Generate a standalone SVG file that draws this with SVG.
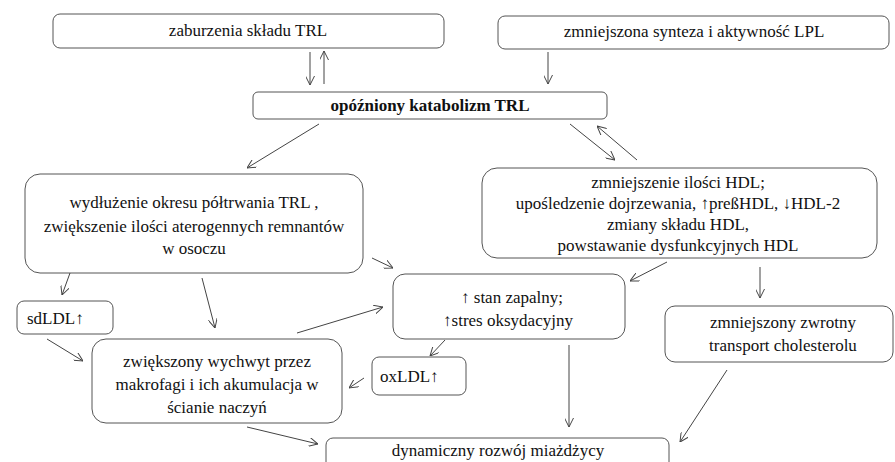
<svg xmlns="http://www.w3.org/2000/svg" width="895" height="462" viewBox="0 0 895 462" font-family="'Liberation Serif', 'Times New Roman', serif">
<style>
.b{fill:#fff;stroke:#555;stroke-width:1}
.t{font-family:'Liberation Serif','Times New Roman',serif;font-size:17px;fill:#111;text-anchor:middle}
.l{font-family:'Liberation Serif','Times New Roman',serif;font-size:17px;fill:#111}
.c line{stroke:#444;stroke-width:1;marker-end:url(#a)}
</style>
<defs>
<marker id="a" viewBox="0 0 10 10" refX="10" refY="5" markerWidth="9" markerHeight="9" markerUnits="userSpaceOnUse" orient="auto">
<path d="M0,0 L10,5 L0,10" fill="none" stroke="#444" stroke-width="1.1"/>
</marker>
</defs>
<rect width="895" height="462" fill="#fff"/>
<g id="n1"><rect class="b" x="53" y="14" width="391" height="34" rx="7"/><text class="t" x="248" y="36">zaburzenia składu TRL</text></g>
<g id="n2"><rect class="b" x="498" y="16" width="391" height="33" rx="7"/><text class="t" x="694" y="37">zmniejszona  synteza i aktywność LPL</text></g>
<g id="n3"><rect class="b" x="253" y="92" width="354" height="27" rx="5"/><text class="t" x="430" y="111" font-weight="bold">opóźniony  katabolizm  TRL</text></g>
<g id="n4"><rect class="b" x="25" y="174" width="338" height="99" rx="15"/>
<text class="t" x="194" y="208">wydłużenie okresu półtrwania TRL ,</text>
<text class="t" x="194" y="232"> zwiększenie ilości aterogennych remnantów</text>
<text class="t" x="194" y="254">w osoczu</text></g>
<g id="n5"><rect class="b" x="482" y="168" width="395" height="90" rx="15"/>
<text class="t" x="678" y="188">zmniejszenie ilości HDL;</text>
<text class="t" x="678" y="209">upośledzenie dojrzewania, ↑preßHDL, ↓HDL-2</text>
<text class="t" x="678" y="230">zmiany składu HDL,</text>
<text class="t" x="678" y="251">powstawanie dysfunkcyjnych HDL</text></g>
<g id="n6"><rect class="b" x="17" y="301" width="96" height="33" rx="7"/><text class="l" x="27" y="324">sdLDL↑</text></g>
<g id="n7"><rect class="b" x="393" y="274" width="232" height="65" rx="12"/>
<text class="t" x="512" y="303">↑ stan zapalny;</text>
<text class="t" x="508" y="326">↑stres oksydacyjny</text></g>
<g id="n8"><rect class="b" x="665" y="306" width="228" height="56" rx="10"/>
<text class="t" x="783" y="328">zmniejszony  zwrotny</text>
<text class="t" x="783" y="351">transport cholesterolu</text></g>
<g id="n9"><rect class="b" x="92" y="339" width="250" height="84" rx="14"/>
<text class="t" x="217" y="367">zwiększony  wychwyt przez</text>
<text class="t" x="217" y="390">makrofagi i ich akumulacja w</text>
<text class="t" x="217" y="413">ścianie naczyń</text></g>
<g id="n10"><rect class="b" x="372" y="357" width="94" height="38" rx="7"/><text class="l" x="380" y="382">oxLDL↑</text></g>
<g id="n11"><rect class="b" x="326" y="438" width="343" height="40" rx="7"/><text class="t" x="498" y="456">dynamiczny rozwój miażdżycy</text></g>
<g class="c" id="connectors">
<line x1="310" y1="52" x2="310" y2="85"/>
<line x1="324" y1="84" x2="324" y2="51"/>
<line x1="548" y1="52" x2="548" y2="84"/>
<line x1="319" y1="124" x2="247" y2="168"/>
<line x1="570" y1="124" x2="615" y2="160"/>
<line x1="637" y1="160" x2="597" y2="126"/>
<line x1="70" y1="273" x2="62" y2="295"/>
<line x1="202" y1="278" x2="215" y2="328"/>
<line x1="372" y1="258" x2="393" y2="268"/>
<line x1="47" y1="339" x2="83" y2="361"/>
<line x1="297" y1="333" x2="383" y2="307"/>
<line x1="667" y1="262" x2="630" y2="281"/>
<line x1="760" y1="267" x2="760" y2="298"/>
<line x1="445" y1="340" x2="430" y2="356"/>
<line x1="364" y1="378" x2="349" y2="388"/>
<line x1="569" y1="345" x2="569" y2="427"/>
<line x1="247" y1="427" x2="318" y2="444"/>
<line x1="727" y1="370" x2="680" y2="442"/>
</g>
</svg>
